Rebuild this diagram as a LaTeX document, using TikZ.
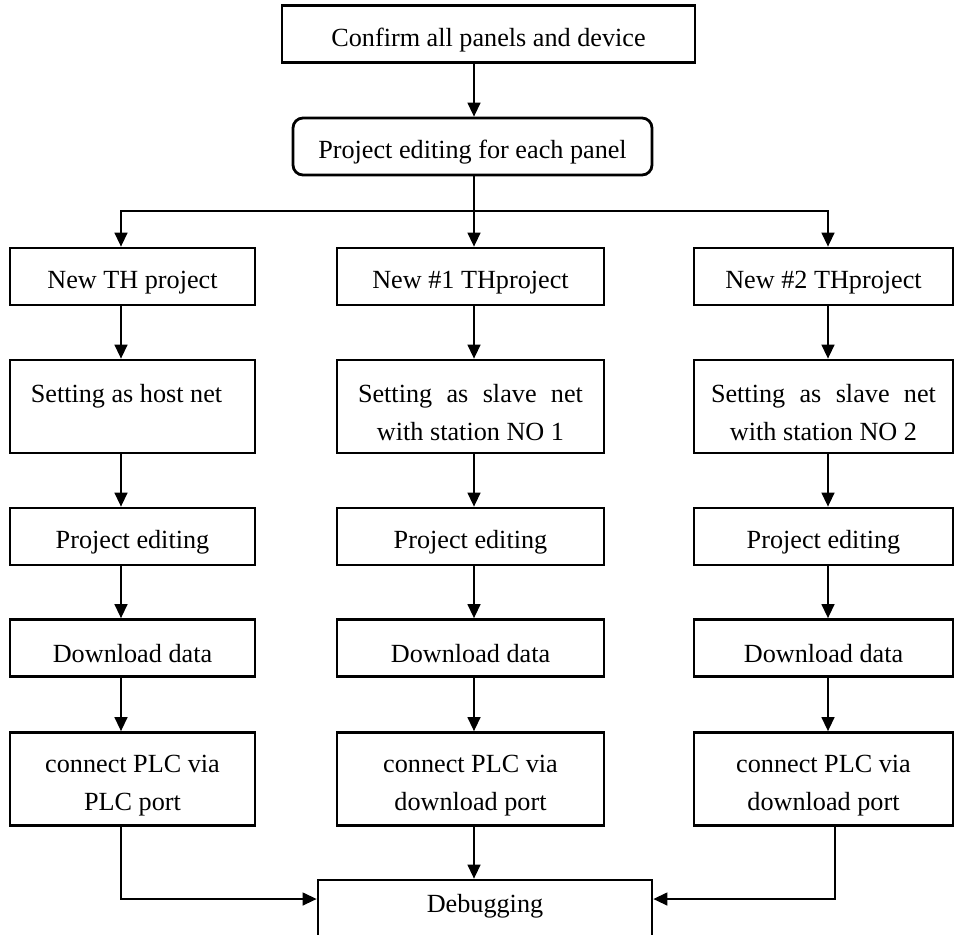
\documentclass[tikz,border=0pt]{standalone}
\usepackage{fontspec}
\setmainfont{Liberation Serif}
\usetikzlibrary{arrows.meta,positioning}

\tikzset{
  box/.style={draw, line width=1.4pt, inner sep=0pt, align=center, minimum height=28.5pt,
    execute at begin node=\rule{0pt}{15pt}},
  tallbox/.style={box, minimum height=46.5pt, text width=112.5pt, align=flush center},
  wideA/.style={minimum width=122.5pt},
  wideB/.style={minimum width=133.5pt},
  wideC/.style={minimum width=129.5pt},
  link/.style={line width=0.7pt},
  arr/.style={line width=0.7pt, -{Triangle[length=7pt,width=6.5pt]}}
}

\begin{document}
\begin{tikzpicture}[x=0.5pt, y=-0.5pt, font=\fontsize{13.1pt}{19pt}\selectfont]
\useasboundingbox (0,0) rectangle (954,934);

% Top
\node[box, minimum width=206.5pt] (confirm) at (488.5,34) {Confirm all panels and device};
\node[box, rounded corners=5pt, minimum width=179.5pt] (editing) at (472.5,146.5) {Project editing for each panel};

% Column lines
\coordinate (colA) at (121,0);
\coordinate (colB) at (474,211);
\coordinate (colC) at (828,0);
\coordinate (inA) at (121,899);
\coordinate (inC) at (835,899);

% Host panel
\node[box, wideA] (newA) at (132.5,276.5) {New TH project};
\node[tallbox, wideA] (netA) at (132.5,406.5) {Setting as host net\hspace{6pt}\mbox{}\\~};
\node[box, wideA] (projA) at (132.5,536.5) {Project editing};
\node[box, wideA] (loadA) at (132.5,648) {Download data};
\node[tallbox, wideA] (plcA) at (132.5,779) {connect PLC via\\PLC port};

% Slave #1
\node[box, wideB] (newB) at (470.5,276.5) {New \#1 THproject};
\node[tallbox, wideB] (netB) at (470.5,406.5) {Setting\hfill as\hfill slave\hfill net\\with station NO 1};
\node[box, wideB] (projB) at (470.5,536.5) {Project editing};
\node[box, wideB] (loadB) at (470.5,648) {Download data};
\node[tallbox, wideB] (plcB) at (470.5,779) {connect PLC via\\download port};

% Slave #2
\node[box, wideC] (newC) at (823.5,276.5) {New \#2 THproject};
\node[tallbox, wideC] (netC) at (823.5,406.5) {Setting\hfill as\hfill slave\hfill net\\with station NO 2};
\node[box, wideC] (projC) at (823.5,536.5) {Project editing};
\node[box, wideC] (loadC) at (823.5,648) {Download data};
\node[tallbox, wideC] (plcC) at (823.5,779) {connect PLC via\\download port};

% Debugging
\node[box, minimum width=167pt, text height=9pt, text depth=14pt, inner ysep=7pt] (debug) at (485,917) {Debugging};

% Arrows
\draw[arr] (confirm.south -| colB) -- (editing.north -| colB);
\draw[link] (editing.south -| colB) -- (colB);
\draw[arr] (colB) -| (newA.north -| colA);
\draw[arr] (colB) -- (newB.north -| colB);
\draw[arr] (colB) -| (newC.north -| colC);

\foreach \c in {A,B,C} {
  \draw[arr] (new\c.south -| col\c) -- (net\c.north -| col\c);
  \draw[arr] (net\c.south -| col\c) -- (proj\c.north -| col\c);
  \draw[arr] (proj\c.south -| col\c) -- (load\c.north -| col\c);
  \draw[arr] (load\c.south -| col\c) -- (plc\c.north -| col\c);
}

\draw[arr] (plcA.south -| inA) |- (debug.west |- inA);
\draw[arr] (plcB.south -| colB) -- (debug.north -| colB);
\draw[arr] (plcC.south -| inC) |- (debug.east |- inC);
\end{tikzpicture}
\end{document}
